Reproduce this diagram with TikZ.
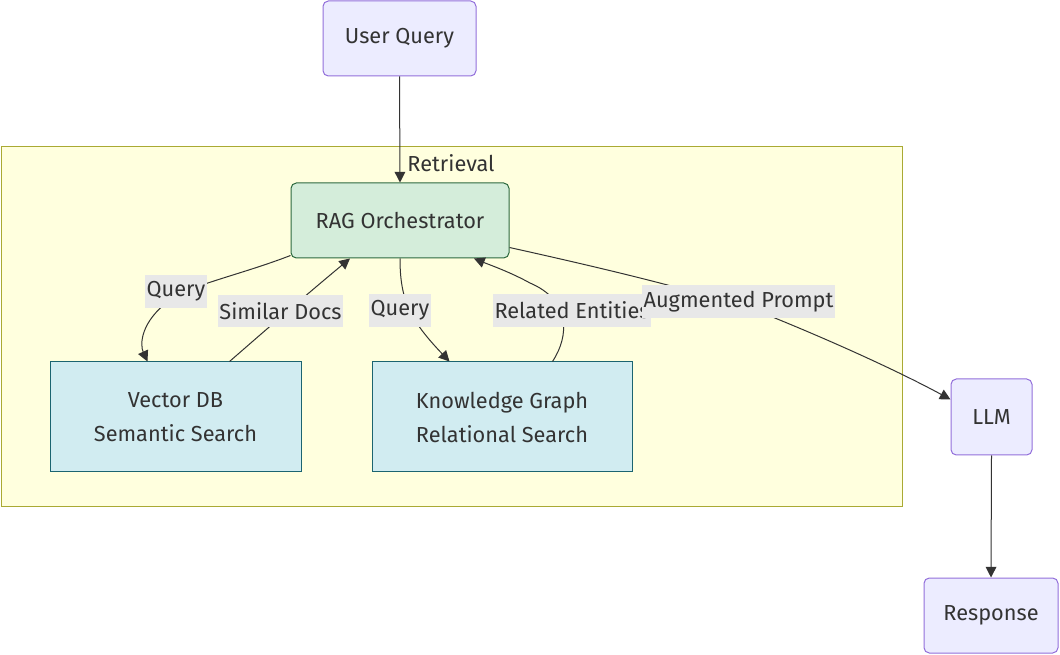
\documentclass[tikz,border=0pt]{standalone}
\usepackage{fontspec}
\setmainfont{Fira Sans}
\usetikzlibrary{arrows.meta,calc}
\definecolor{txt}{HTML}{333333}
\definecolor{purpfill}{HTML}{ECECFF}
\definecolor{purpdraw}{HTML}{9370DB}
\definecolor{grnfill}{HTML}{D4EDDA}
\definecolor{grndraw}{HTML}{2D6A3F}
\definecolor{bluefill}{HTML}{D1ECF1}
\definecolor{bluedraw}{HTML}{1B6470}
\definecolor{clfill}{HTML}{FFFFDE}
\definecolor{cldraw}{HTML}{AAAA33}
\definecolor{lblfill}{HTML}{E8E8E8}
\tikzset{
  base/.style={text=txt, font=\fontsize{16.3}{25.5}\selectfont, align=center, inner sep=0pt},
  purp/.style={base, draw=purpdraw, fill=purpfill, rounded corners=4pt, line width=0.75pt},
  grn/.style={base, draw=grndraw, fill=grnfill, rounded corners=4pt, line width=0.75pt},
  blu/.style={base, draw=bluedraw, fill=bluefill, line width=0.75pt},
  lbl/.style={text=txt, font=\fontsize{16.3}{18}\selectfont, fill=lblfill, inner xsep=1pt, inner ysep=0pt, minimum height=24.5pt},
  conn/.style={draw=txt, line width=0.75pt, -{Triangle[length=8pt,width=8pt]}},
}
\begin{document}
\begin{tikzpicture}[x=0.75pt,y=-0.75pt]
\useasboundingbox (0,0) rectangle (1060,655);
\fill[white] (0,0) rectangle (1060,655);
% cluster
\draw[fill=clfill, draw=cldraw, line width=0.75pt] (1,147) rectangle (902,507);
\node[text=txt, font=\fontsize{16.3}{18}\selectfont, inner sep=0pt] (retl) at (451,163) {Retrieval};
% nodes
\node[purp, minimum width=114.75pt, minimum height=56.25pt] (uq) at (399.5,38.5) {User Query};
\node[grn, minimum width=163.5pt, minimum height=56.25pt] (rag) at (400,220.5) {RAG Orchestrator};
\node[blu, minimum width=188.25pt, minimum height=82.5pt] (vdb) at (175.5,417) {Vector DB\\Semantic Search};
\node[blu, minimum width=195pt, minimum height=82.5pt] (kg) at (502,417) {Knowledge Graph\\Relational Search};
\node[purp, minimum width=60.75pt, minimum height=57pt] (llm) at (991.5,417) {LLM};
\node[purp, minimum width=100.5pt, minimum height=56.25pt] (resp) at (991,615.5) {Response};
% edges
\draw[conn] (uq.south) -- (rag.north);
\draw[conn] ($(rag.south west)+(0,-3)$) .. controls (240,275) and (190,285) .. (170,300) .. controls (140,322) and (140,345) .. ($(vdb.north west)+(98,0)$);
\draw[conn] ($(vdb.north west)+(180,0)$) .. controls (260,335) and (300,300) .. ($(rag.south)+(-50,0)$);
\draw[conn] (rag.south) .. controls (400,300) and (410,320) .. ($(kg.north west)+(78,0)$);
\draw[conn] ($(kg.north west)+(181,0)$) .. controls (570,335) and (570,300) .. (530,283) .. controls (510,272) and (490,265) .. ($(rag.south)+(74,0)$);
\draw[conn] ($(rag.south east)+(0,-11)$) .. controls (620,272) and (700,292) .. (760,312) .. controls (830,340) and (900,372) .. ($(llm.north west)+(0,21)$);
\draw[conn] (llm.south) -- (resp.north);
% labels
\node[lbl] (l1) at (176,291.5) {Query};
\node[lbl] (l2) at (280.5,311) {Similar Docs};
\node[lbl] (l3) at (400,310.5) {Query};
\node[lbl] (l4) at (572,310.5) {Related Entities};
\node[lbl] (l5) at (738.5,301.5) {Augmented Prompt};
\end{tikzpicture}
\end{document}
